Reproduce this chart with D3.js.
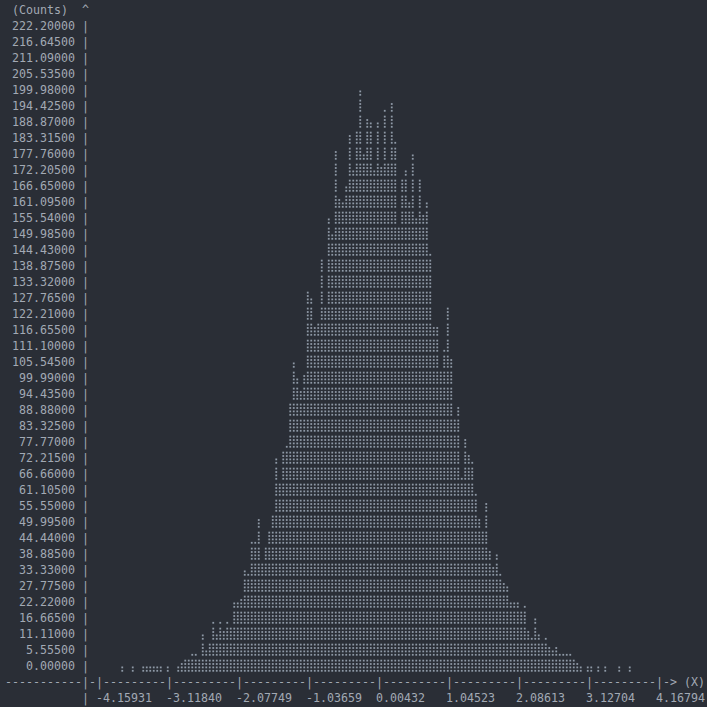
<!DOCTYPE html>
<html>
<head>
<meta charset="utf-8">
<script src="https://cdn.jsdelivr.net/npm/d3@7"></script>
<style>
  html, body { margin: 0; padding: 0; background: #2a2e36; }
  svg { display: block; }
  text { font-family: "DejaVu Sans Mono", "Liberation Mono", monospace; font-size: 11.63px; fill: #a2a9b4; white-space: pre; }
</style>
</head>
<body>
<svg id="chart" width="707" height="707"></svg>
<script>
// ---- data ----
const xLabel = "X";
const yLabel = "Counts";
const xMin = -4.15931;
const xMax = 4.16794;
const yMax = 222.2;
const plotRows = 40;
// one count per histogram bin (160 bins, one braille dot column each)
const binCounts = [
  0,0,0,0,0,0,0,1,0,0,
  1,0,0,1,1,1,1,1,1,0,
  1,0,0,1,3,4,4,6,6,4,
  12,7,10,17,12,17,14,17,15,24,
  24,25,35,33,44,44,53,37,43,49,
  54,74,65,76,78,93,107,101,97,103,
  132,129,119,121,143,126,157,151,181,164,
  162,168,186,174,187,201,179,192,190,174,
  190,175,194,176,197,183,154,171,174,162,
  179,157,171,158,162,144,119,119,104,111,
  126,108,87,92,67,81,75,72,61,53,
  49,58,42,36,40,33,31,29,24,24,
  24,21,22,14,11,18,12,10,11,8,
  7,8,6,6,6,6,4,3,1,0,
  1,1,0,1,0,1,0,0,0,1,
  0,0,1,0,0,0,0,0,0,0
];
const yTickLabels = [
  "222.20000","216.64500","211.09000","205.53500","199.98000","194.42500","188.87000",
  "183.31500","177.76000","172.20500","166.65000","161.09500","155.54000","149.98500",
  "144.43000","138.87500","133.32000","127.76500","122.21000","116.65500","111.10000",
  "105.54500","99.99000","94.43500","88.88000","83.32500","77.77000","72.21500",
  "66.66000","61.10500","55.55000","49.99500","44.44000","38.88500","33.33000",
  "27.77500","22.22000","16.66500","11.11000","5.55500","0.00000"
];
const xTickLabels = ["-4.15931","-3.11840","-2.07749","-1.03659","0.00432","1.04523","2.08613","3.12704","4.16794"];

(function () {
  // ---- layout (terminal character grid) ----
  const charW = 7, lineH = 16, padLeft = 5, padTop = 1;
  const svg = d3.select("#chart");
  svg.append("rect").attr("width", 707).attr("height", 707).attr("fill", "#2a2e36");

  function put(str, col, row) {
    svg.append("text")
      .attr("x", padLeft + col * charW)
      .attr("y", padTop + row * lineH + 12.5)
      .attr("textLength", str.length * charW)
      .attr("lengthAdjust", "spacingAndGlyphs")
      .text(str);
  }

  // header line
  put("(" + yLabel + ")", 1, 0);
  put("^", 11, 0);

  // y labels
  yTickLabels.forEach((s, i) => {
    put(s, 10 - s.length, i + 1);
    put("|", 11, i + 1);
  });

  // x axis line
  const nInt = xTickLabels.length - 1;
  let axis = "-".repeat(11) + "|-";
  for (let i = 0; i < nInt; i++) axis += "|" + "-".repeat(9);
  axis += "|->";
  const axisRow = yTickLabels.length + 1;
  put(axis, 0, axisRow);
  put("(" + xLabel + ")", axis.length + 1, axisRow);

  // x tick labels
  put("|", 11, axisRow + 1);
  xTickLabels.forEach((s, i) => put(s, 13 + 10 * i, axisRow + 1));

  // ---- braille dot histogram ----
  const canvasLeft = padLeft + 13 * charW;
  const canvasRight = canvasLeft + nInt * 10 * charW;
  const x = d3.scaleLinear().domain([xMin, xMax]).range([canvasLeft, canvasRight]);
  const nBins = binCounts.length;
  const binW = (xMax - xMin) / nBins;
  const dotRow = d3.scaleLinear().domain([0, yMax]).range([0, plotRows * 4]);
  const baseRowTop = padTop + yTickLabels.length * lineH; // top of the "0.00000" row
  const subOff = [13.8, 10.4, 7.0, 3.6];
  function dotY(d) {
    const cell = Math.floor(d / 4);
    return baseRowTop - cell * lineH + subOff[d % 4];
  }

  const dots = [];
  binCounts.forEach((c, j) => {
    if (c <= 0) return;
    const topDot = Math.round(dotRow(c));
    const cx = x(xMin + (j + 0.5) * binW);
    for (let d = 0; d <= topDot; d++) dots.push([cx, dotY(d)]);
  });

  const ds = 1.8;
  svg.append("g").attr("fill", "#8e98a6")
    .selectAll("rect").data(dots).join("rect")
    .attr("x", d => d[0] - ds / 2)
    .attr("y", d => d[1] - ds / 2)
    .attr("width", ds).attr("height", ds);
})();
</script>
</body>
</html>
